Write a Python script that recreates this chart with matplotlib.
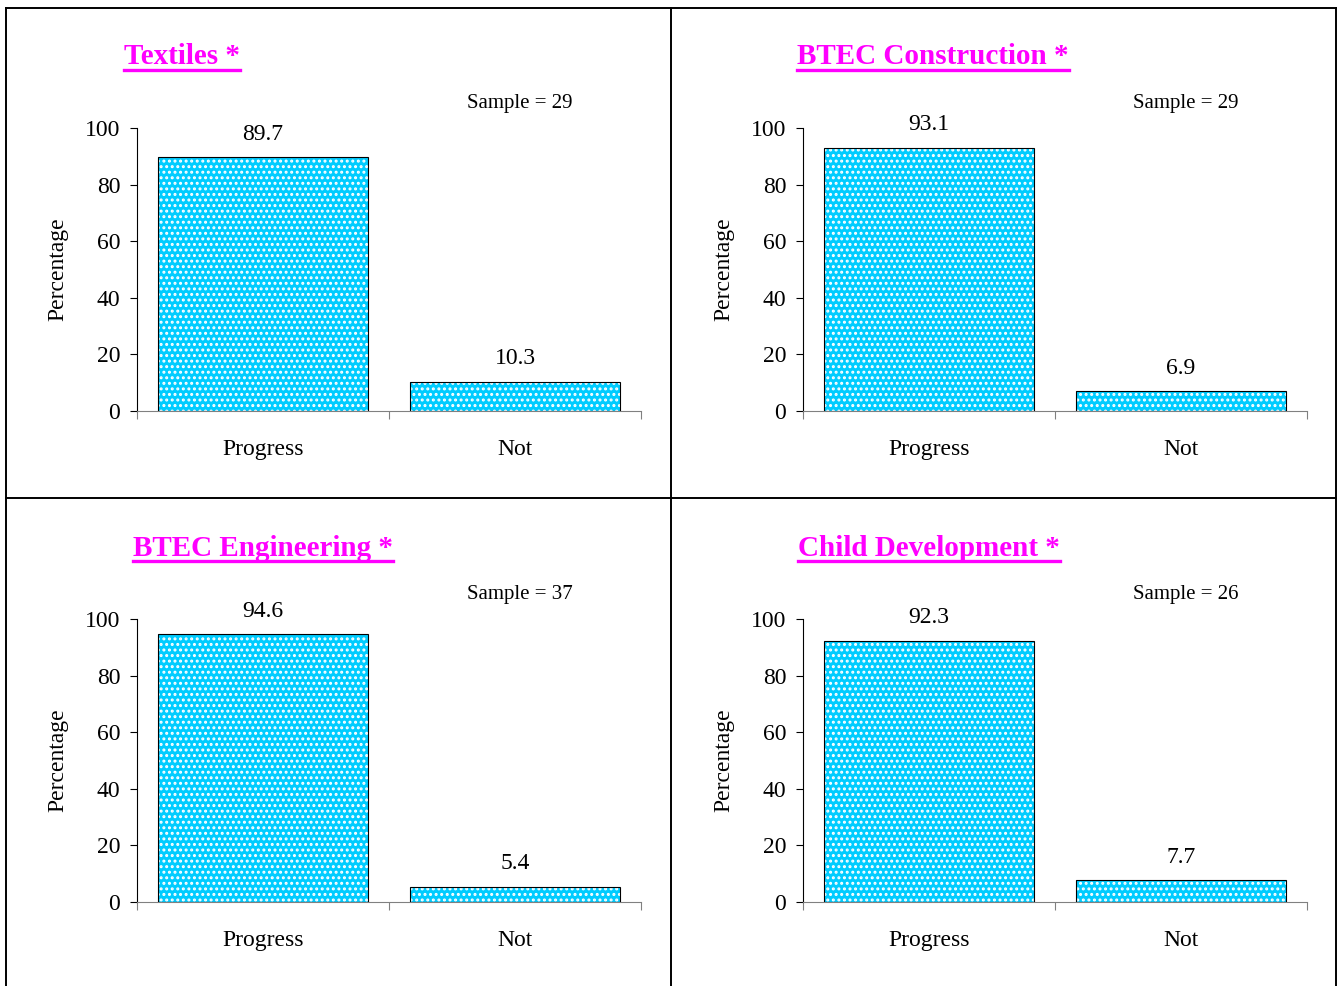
import matplotlib
matplotlib.use("Agg")
import matplotlib.pyplot as plt
from matplotlib.lines import Line2D

plt.rcParams["font.family"] = ["Liberation Serif", "DejaVu Serif"]
plt.rcParams["hatch.linewidth"] = 1.4

# ── data ──────────────────────────────────────────
TITLES = ["Textiles *", "BTEC Construction *", "BTEC Engineering *", "Child Development *"]
SAMPLES = [29, 29, 37, 26]
CATEGORIES = ["Progress", "Not"]
PROGRESS = [89.7, 93.1, 94.6, 92.3]
NOT = [10.3, 6.9, 5.4, 7.7]

W, H = 1341, 986
fig = plt.figure(figsize=(W / 100, H / 100), dpi=100)

# panel geometry in pixels: (axes left, axes bottom-y, title left, title y)
panels = [
    (137, 411, 124, 57),
    (803, 411, 797, 57),
    (137, 902, 133, 548),
    (803, 902, 798, 548),
]
ax_w, ax_h = 504, 283
FS = 17

title_texts = []
for i, (px, py, tx, ty) in enumerate(panels):
    ax = fig.add_axes([px / W, (H - py) / H, ax_w / W, ax_h / H])
    vals = [PROGRESS[i], NOT[i]]
    xs = range(len(CATEGORIES))
    ax.bar(xs, vals, width=0.833, color="#00CCFF", edgecolor="white",
           hatch="...", linewidth=0, zorder=2)
    ax.bar(xs, vals, width=0.833, fill=False, edgecolor="black",
           linewidth=0.8, zorder=3)
    for x, v in zip(xs, vals):
        ax.annotate(f"{v:.1f}", (x, v), xytext=(0, 9), textcoords="offset points",
                    ha="center", va="bottom", fontsize=FS)
    ax.set_xlim(-0.5, 1.5)
    ax.set_ylim(0, 100)
    ax.set_yticks(range(0, 101, 20))
    ax.tick_params(axis="y", labelsize=FS, length=5, pad=7)
    ax.set_xticks([-0.5, 0.5, 1.5])
    ax.set_xticklabels([])
    ax.set_xticks([0, 1], minor=True)
    ax.set_xticklabels(CATEGORIES, minor=True, fontsize=FS)
    ax.tick_params(axis="x", which="major", length=6, color="#808080")
    ax.tick_params(axis="x", which="minor", length=0, pad=20)
    ax.spines["top"].set_visible(False)
    ax.spines["right"].set_visible(False)
    ax.spines["bottom"].set_color("#808080")
    ax.set_ylabel("Percentage", fontsize=FS, labelpad=12)
    ax.text(0.76, 1.085, f"Sample = {SAMPLES[i]}", transform=ax.transAxes,
            fontsize=15, ha="center", va="center")
    t = fig.text(tx / W, (H - ty) / H, TITLES[i], color="#FF00FF", fontsize=21,
                 fontweight="bold", ha="left", va="center")
    title_texts.append(t)

# underline titles
fig.canvas.draw()
renderer = fig.canvas.get_renderer()
for t in title_texts:
    bb = t.get_window_extent(renderer)
    y = (bb.y0 + 1) / H
    fig.add_artist(Line2D([bb.x0 / W, bb.x1 / W], [y, y], color="#FF00FF",
                          linewidth=2.4, transform=fig.transFigure))

# table borders
lc = "black"
lw = 1.4
for x in (6, 671, 1336):
    fig.add_artist(Line2D([x / W, x / W], [0, (H - 8) / H], color=lc, linewidth=lw,
                          transform=fig.transFigure))
for y in (8, 498):
    fig.add_artist(Line2D([6 / W, 1336 / W], [(H - y) / H, (H - y) / H], color=lc,
                          linewidth=lw, transform=fig.transFigure))

fig.savefig("out.png", dpi=100)
